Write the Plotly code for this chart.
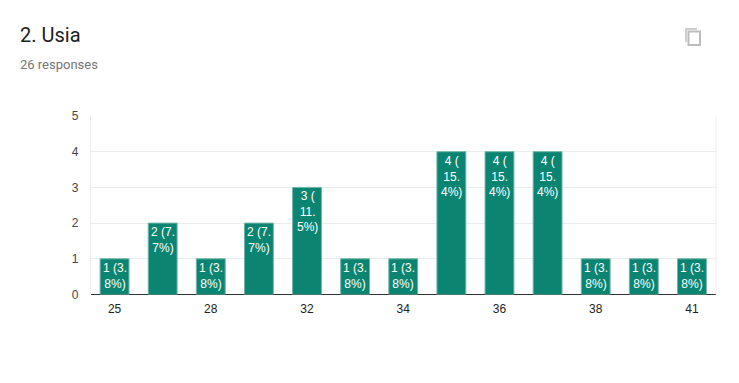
import plotly.graph_objects as go

ages = ["25", "27", "28", "30", "32", "33", "34", "35", "36", "37", "38", "40", "41"]
counts = [1, 2, 1, 2, 3, 1, 1, 4, 4, 4, 1, 1, 1]
bar_labels = ["1 (3.<br>8%)", "2 (7.<br>7%)", "1 (3.<br>8%)", "2 (7.<br>7%)", "3 (<br>11.<br>5%)",
              "1 (3.<br>8%)", "1 (3.<br>8%)", "4 (<br>15.<br>4%)", "4 (<br>15.<br>4%)", "4 (<br>15.<br>4%)",
              "1 (3.<br>8%)", "1 (3.<br>8%)", "1 (3.<br>8%)"]
shown_ages = ["25", "28", "32", "34", "36", "38", "41"]
y_ticks = [0, 1, 2, 3, 4, 5]

W, H = 723, 367
OFF = 8
px = lambda v: (v - OFF) / W
py = lambda v: 1 - (v - OFF) / H
CHART_FONT = "Liberation Sans, Arial"

fig = go.Figure(go.Bar(
    x=ages, y=counts, width=0.6,
    marker=dict(color="#0b8571", line=dict(color="#6fb5a8", width=1)),
    cliponaxis=False, hoverinfo="skip",
))

# On a category axis an annotation's x is the category's position.
bar_annotations = [
    dict(text=label, x=i, y=count, xref="x", yref="y", xanchor="center", yanchor="top",
         yshift=0, showarrow=False, align="center",
         font=dict(family=CHART_FONT, size=12, color="#ffffff"))
    for i, (count, label) in enumerate(zip(counts, bar_labels))
]

fig.update_layout(
    width=W, height=H, margin=dict(l=0, r=0, t=0, b=0, autoexpand=False),
    paper_bgcolor="white", plot_bgcolor="white", showlegend=False, bargap=0.4,
    font=dict(family=CHART_FONT, size=12, color="#444444"),
    xaxis=dict(domain=[px(90.5), px(716)], type="category", categoryorder="array", categoryarray=ages,
               range=[-0.5, len(ages) - 0.5],
               tickmode="array", tickvals=shown_ages, ticktext=shown_ages, ticks="", ticklen=0,
               ticklabelstandoff=5, automargin=False, showgrid=False, zeroline=False, showline=False,
               tickfont=dict(family=CHART_FONT, size=12, color="#222222"), anchor="y"),
    yaxis=dict(domain=[py(294.5), py(116)], range=[0, 5], tickmode="array", tickvals=y_ticks,
               ticklabelstandoff=11, automargin=False, showgrid=True, gridcolor="#ececec", gridwidth=1,
               zeroline=True, zerolinecolor="#333333", zerolinewidth=1, showline=False, ticks="", ticklen=0,
               tickfont=dict(family=CHART_FONT, size=12, color="#444444"), anchor="x"),
    annotations=[
        dict(text="2. Usia", x=px(18), y=py(35), xref="paper", yref="paper", xanchor="left", yanchor="middle",
             showarrow=False, font=dict(family="Roboto, Arial", size=20, color="#212121")),
        dict(text="26 responses", x=px(18), y=py(64), xref="paper", yref="paper", xanchor="left", yanchor="middle",
             showarrow=False, font=dict(family="Roboto, Arial", size=13, color="#757575")),
    ] + bar_annotations,
    shapes=[
        dict(type="line", xref="paper", yref="paper", x0=px(90.5), x1=px(90.5), y0=py(294.5), y1=py(116),
             line=dict(color="#ececec", width=1)),
        dict(type="line", xref="paper", yref="paper", x0=px(716), x1=px(716), y0=py(294.5), y1=py(116),
             line=dict(color="#ececec", width=1)),
        dict(type="rect", xref="paper", yref="paper", x0=px(688.5), x1=px(700), y0=py(45), y1=py(31.5),
             line=dict(color="#bdbdbd", width=2)),
        dict(type="path", xref="paper", yref="paper",
             path=f"M {px(686)} {py(42)} L {px(686)} {py(29)} L {px(697)} {py(29)}",
             line=dict(color="#bdbdbd", width=1.5)),
    ],
)

fig.write_html("out.html", config={"displayModeBar": False})
